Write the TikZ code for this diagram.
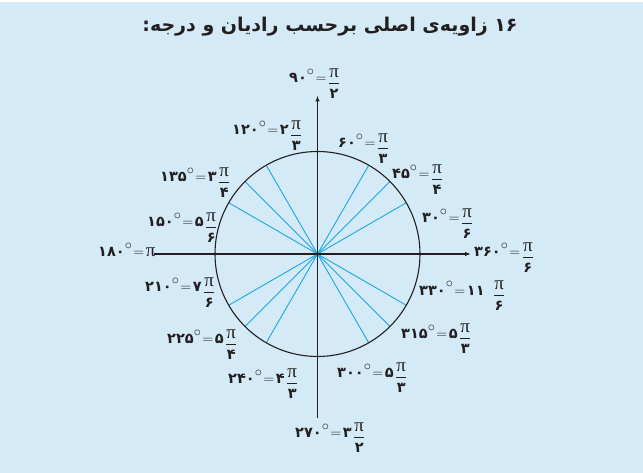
\documentclass[tikz,border=0pt]{standalone}
\usepackage{fontspec}
\usepackage{amsmath}
\usetikzlibrary{arrows.meta,calc}
\setmainfont{DejaVu Sans}
\newfontfamily\dgb{DejaVu Sans Bold}
\newfontfamily\arabicbold[Script=Arabic]{DejaVu Sans Bold}
\newfontfamily\pifont{Liberation Serif}
\TeXXeTstate=1
\definecolor{bg}{HTML}{D4EBF7}
\definecolor{spoke}{HTML}{1BA6E2}
\definecolor{ink}{HTML}{231F20}
\newcommand\PIs{{\pifont\fontsize{19}{19}\selectfont π}}
\newcommand\dgr{\raisebox{7pt}{$\circ$}}
\newcommand\eqs{\hspace{1.5pt}$=$\hspace{1.5pt}}
\newcommand\Fr[1]{\raisebox{-4.3pt}{$\dfrac{\mbox{\PIs}}{\mbox{\rule{0pt}{12.5pt}\dgb #1}}$}}
\newcommand\Lab[3]{{\dgb #1}\dgr\eqs{\dgb #2}\hspace{1.5pt}\Fr{#3}}
\newcommand\LabN[2]{{\dgb #1}\dgr\eqs\Fr{#2}}
\tikzset{
  lab/.style={anchor=base west, inner sep=0pt, text=ink, font=\fontsize{14.5}{16}\selectfont},
  axis/.style={ink, line width=1.2pt, -{Latex[length=6pt,width=4.5pt]}},
  spk/.style={spoke, line width=0.9pt},
}
\begin{document}
\begin{tikzpicture}[x=1pt,y=-1pt]
\fill[bg] (0,0) rectangle (643,473);
\useasboundingbox (0,0) rectangle (643,473);
\fill[white] (0,0) rectangle (643,2.5);
\node[font=\arabicbold\fontsize{19}{22}\selectfont, text=ink] (title) at (330,27)
  {\beginR\beginL{\dgb ۱۶}\endL{} زاویه‌ی اصلی برحسب رادیان و درجه:\endR};
\coordinate (O) at (317.5,254);
\foreach \a in {30,45,60,120,135,150,210,225,240,300,315,330}
  \coordinate (p\a) at ($(O)+(\a:102.5pt)$);
\foreach \a/\b in {30/210,45/225,60/240,120/300,135/315,150/330}
  \draw[spk] (p\a) -- (p\b);
\draw[ink, line width=1.1pt] (O) circle[radius=102.5pt];
\coordinate (xl) at (154,254);
\coordinate (xr) at (471,254);
\coordinate (yb) at (317.5,418);
\coordinate (yt) at (317.5,95.5);
\draw[axis] (xl) -- (xr);
\draw[axis] (yb) -- (yt);
\node[lab] (l90)  at (289,83)  {\LabN{۹۰}{۲}};
\node[lab] (l60)  at (338,148) {\LabN{۶۰}{۳}};
\node[lab] (l45)  at (392,179) {\LabN{۴۵}{۴}};
\node[lab] (l30)  at (422,223) {\LabN{۳۰}{۶}};
\node[lab] (l360) at (474,257) {\LabN{۳۶۰}{۶}};
\node[lab] (l120) at (232,135) {\Lab{۱۲۰}{۲}{۳}};
\node[lab] (l135) at (160,182) {\Lab{۱۳۵}{۳}{۴}};
\node[lab] (l150) at (147,227) {\Lab{۱۵۰}{۵}{۶}};
\node[lab] (l180) at (98,257)  {{\dgb ۱۸۰}\dgr\eqs\PIs};
\node[lab] (l210) at (145,292) {\Lab{۲۱۰}{۷}{۶}};
\node[lab] (l225) at (167,344) {\Lab{۲۲۵}{۵}{۴}};
\node[lab] (l240) at (228,383) {\Lab{۲۴۰}{۴}{۳}};
\node[lab] (l270) at (295,437) {\Lab{۲۷۰}{۳}{۲}};
\node[lab] (l300) at (337,377) {\Lab{۳۰۰}{۵}{۳}};
\node[lab] (l315) at (401,338) {\Lab{۳۱۵}{۵}{۳}};
\node[lab] (l330) at (419,295) {\Lab{۳۳۰}{۱۱\hspace{7pt}}{۶}};
\end{tikzpicture}
\end{document}
